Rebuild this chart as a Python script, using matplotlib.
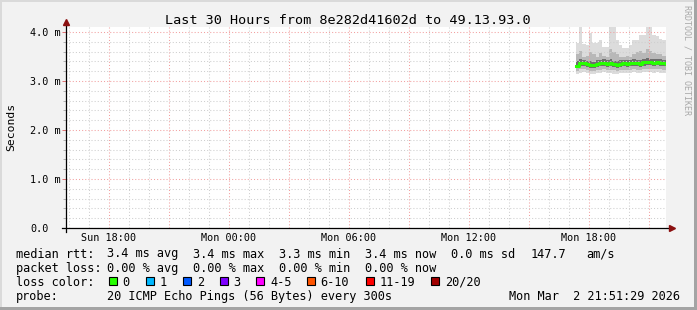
import numpy as np
import matplotlib.pyplot as plt
from matplotlib.patches import Rectangle
from matplotlib.ticker import MultipleLocator
import matplotlib.transforms as mtransforms

plt.rcParams['lines.scale_dashes'] = False
MONO = 'DejaVu Sans Mono'
W, H = 697, 310

# sample times on Monday (10 min steps)
times = ["17:20", "17:30", "17:40", "17:50", "18:00", "18:10", "18:20",
         "18:30", "18:40", "18:50", "19:00", "19:10", "19:20", "19:30",
         "19:40", "19:50", "20:00", "20:10", "20:20", "20:30", "20:40",
         "20:50", "21:00", "21:10", "21:20", "21:30", "21:40", "21:50"]

# rtt values in ms
median = [3.31, 3.36, 3.37, 3.34, 3.33, 3.32, 3.34, 3.36, 3.37, 3.35,
          3.36, 3.34, 3.33, 3.35, 3.36, 3.35, 3.36, 3.37, 3.36, 3.35,
          3.38, 3.38, 3.38, 3.37, 3.38, 3.37, 3.36, 3.35]
smoke_max = [3.78, 4.10, 3.75, 3.73, 3.97, 3.78, 3.78, 3.84, 3.70, 3.70,
             4.10, 4.10, 3.84, 3.73, 3.67, 3.67, 3.73, 3.84, 3.84, 3.94,
             3.94, 4.10, 4.10, 3.94, 3.92, 3.86, 3.84, 3.80]
smoke_hi = [3.55, 3.62, 3.50, 3.52, 3.60, 3.55, 3.50, 3.58, 3.52, 3.48,
            3.65, 3.60, 3.55, 3.50, 3.48, 3.52, 3.50, 3.56, 3.60, 3.62,
            3.58, 3.66, 3.62, 3.58, 3.55, 3.56, 3.52, 3.50]
dark_hi = [3.40, 3.44, 3.43, 3.41, 3.40, 3.39, 3.42, 3.43, 3.44, 3.42,
           3.45, 3.41, 3.40, 3.42, 3.43, 3.42, 3.43, 3.44, 3.43, 3.42,
           3.45, 3.46, 3.45, 3.44, 3.45, 3.44, 3.43, 3.42]
dark_lo = [3.26, 3.30, 3.31, 3.28, 3.27, 3.26, 3.28, 3.30, 3.31, 3.29,
           3.30, 3.28, 3.27, 3.29, 3.30, 3.29, 3.30, 3.31, 3.30, 3.29,
           3.31, 3.32, 3.32, 3.31, 3.32, 3.31, 3.30, 3.29]
smoke_lo = [3.20, 3.24, 3.24, 3.22, 3.21, 3.20, 3.22, 3.23, 3.24, 3.22,
            3.23, 3.22, 3.21, 3.22, 3.23, 3.22, 3.23, 3.24, 3.23, 3.22,
            3.24, 3.25, 3.25, 3.24, 3.25, 3.24, 3.23, 3.22]
smoke_min = [3.14, 3.17, 3.18, 3.16, 3.15, 3.14, 3.16, 3.17, 3.18, 3.16,
             3.16, 3.15, 3.14, 3.16, 3.17, 3.16, 3.17, 3.18, 3.17, 3.16,
             3.18, 3.19, 3.18, 3.17, 3.18, 3.17, 3.16, 3.15]

# x axis labels (hours counted from Sun 00:00)
tick_hours = [18, 24, 30, 36, 42]
tick_labels = ["Sun 18:00", "Mon 00:00", "Mon 06:00", "Mon 12:00", "Mon 18:00"]
y_values = [0, 1, 2, 3, 4]
y_labels = ["0.0", "1.0 m", "2.0 m", "3.0 m", "4.0 m"]

title = "Last 30 Hours from 8e282d41602d to 49.13.93.0"
end_hour = 24 + 21 + 51 / 60 + 29 / 3600   # Mon 21:51:29
start_hour = end_hour - 30

rtt_row = ["3.4 ms avg", "3.4 ms max", "3.3 ms min", "3.4 ms now", "0.0 ms sd", "147.7", "am/s"]
loss_row = ["0.00 % avg", "0.00 % max", "0.00 % min", "0.00 % now"]
loss_names = ["0", "1", "2", "3", "4-5", "6-10", "11-19", "20/20"]
loss_colors = ["#26ff00", "#00b8ff", "#0059ff", "#7e00ff", "#ff00ff", "#ff5500", "#ff0000", "#a10000"]
probe_text = "20 ICMP Echo Pings (56 Bytes) every 300s"
stamp = "Mon Mar  2 21:51:29 2026"

t = np.array([24 + int(s[:2]) + int(s[3:]) / 60 for s in times])
t_edge = np.append(t, end_hour)

def ext(v):
    v = np.asarray(v, dtype=float)
    return np.append(v, v[-1])

fig = plt.figure(figsize=(W / 100, H / 100), dpi=100, facecolor='#f2f2f2')
ax = fig.add_axes([66 / W, 82 / H, 600 / W, 201 / H])
ax.set_facecolor('white')

ax.fill_between(t_edge, ext(smoke_min), ext(smoke_max), step='post', color='#dcdcdc', lw=0, zorder=1)
ax.fill_between(t_edge, ext(smoke_lo), ext(smoke_hi), step='post', color='#b8b8b8', lw=0, zorder=1)
ax.fill_between(t_edge, ext(dark_lo), ext(dark_hi), step='post', color='#6e6e6e', lw=0, zorder=1)
ax.step(t_edge, ext(median), where='post', color='#26ff00', lw=2.2, zorder=3)

ax.set_xlim(start_hour, end_hour)
ax.set_ylim(0, 201 / 49)
ax.xaxis.set_major_locator(MultipleLocator(3))
ax.xaxis.set_minor_locator(MultipleLocator(1))
ax.yaxis.set_major_locator(MultipleLocator(1))
ax.yaxis.set_minor_locator(MultipleLocator(0.2))
ax.set_axisbelow('line')
ax.grid(which='major', color='#f2a0a0', linestyle=(0, (0.75, 1.5)), linewidth=0.75)
ax.grid(which='minor', color='#cfcfcf', linestyle=(0, (0.75, 1.5)), linewidth=0.75)
ax.tick_params(labelleft=False, labelbottom=False)
ax.tick_params(axis='x', which='both', length=0)
ax.tick_params(axis='y', which='major', length=3, color='#e07070', width=0.7)
ax.tick_params(axis='y', which='minor', length=2, color='#b0b0b0', width=0.7)
for s in ax.spines.values():
    s.set_visible(False)

# axis lines with arrows
ax.plot([0, 0], [-4 / 201, 1 + 4 / 201], transform=ax.transAxes, color='black', lw=0.9, clip_on=False, zorder=5)
ax.plot([-4 / 600, 1 + 4 / 600], [0, 0], transform=ax.transAxes, color='black', lw=0.9, clip_on=False, zorder=5)
ax.plot([0], [1 + 5 / 201], marker='^', ms=4, color='#8b1010', transform=ax.transAxes, clip_on=False, zorder=6)
ax.plot([1 + 6 / 600], [0], marker='>', ms=4, color='#8b1010', transform=ax.transAxes, clip_on=False, zorder=6)

def ftext(x, y, s, **kw):
    kw.setdefault('family', MONO)
    kw.setdefault('fontsize', 8.55)
    kw.setdefault('va', 'baseline')
    return fig.text(x / W, 1 - y / H, s, **kw)

# y tick labels
for v, lab in zip(y_values, y_labels):
    ftext(30, 228 - v * 49 + 3.7, lab, fontsize=7.3, ha='left')

# x tick labels
for h, lab in zip(tick_hours, tick_labels):
    ftext(66 + (h - start_hour) * 20, 241, lab, fontsize=7.3, ha='center')

ftext(348, 24, title, fontsize=9.7, ha='center')
ftext(11, 127, "Seconds", fontsize=8.2, rotation=90, ha='center', va='center')
ftext(687, 5, "RRDTOOL / TOBI OETIKER", fontsize=6, rotation=270, ha='center', va='top', color='#a8a8a8')

# legend rows
ftext(16, 257.5, "median rtt:")
for x, s in zip([107, 193, 279, 365, 451, 530.5, 586], rtt_row):
    ftext(x, 257.5, s)
ftext(16, 271.7, "packet loss:")
for x, s in zip([107, 193, 279, 365], loss_row):
    ftext(x, 271.7, s)
ftext(16, 285.9, "loss color:")
box_x = [108.7, 145.7, 182.7, 219.7, 256, 306.7, 365.7, 430.7]
for bx, name, c in zip(box_x, loss_names, loss_colors):
    fig.patches.append(Rectangle((bx / W, 1 - 284.7 / H), 8 / W, 8 / H, transform=fig.transFigure,
                                 facecolor=c, edgecolor='black', lw=0.8))
    ftext(bx + 14, 285.9, name)
ftext(16, 300.1, "probe:")
ftext(107, 300.1, probe_text)
ftext(680, 300.1, stamp, ha='right')

# frame
fig.patches.append(Rectangle((0, 1 - 2 / H), 1, 2 / H, transform=fig.transFigure, facecolor='#dadada', lw=0))
fig.patches.append(Rectangle((0, 0), 2 / W, 1, transform=fig.transFigure, facecolor='#dadada', lw=0))
fig.patches.append(Rectangle((0, 0), 1, 3 / H, transform=fig.transFigure, facecolor='#a4a4a4', lw=0))
fig.patches.append(Rectangle((1 - 3 / W, 0), 3 / W, 1, transform=fig.transFigure, facecolor='#a4a4a4', lw=0))

fig.savefig('out.png', dpi=100, facecolor=fig.get_facecolor())
